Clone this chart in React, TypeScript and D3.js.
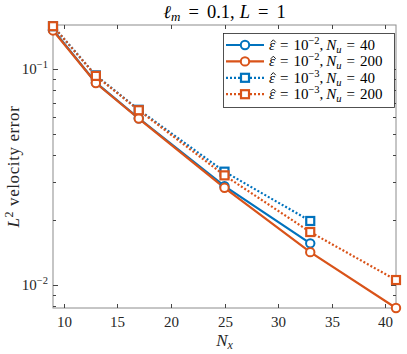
import React, { useEffect, useRef } from "react";
import * as d3 from "d3";

// grid sizes and errors
const nx = [9, 13, 17, 25, 33, 41];
const errEps2Nu40 = [0.152, 0.0865, 0.0592, 0.0287, 0.0156];
const errEps2Nu200 = [0.151, 0.0862, 0.0590, 0.0282, 0.0142, 0.00783];
const errEps3Nu40 = [0.158, 0.0935, 0.0648, 0.0335, 0.0198];
const errEps3Nu200 = [0.158, 0.0930, 0.0645, 0.0322, 0.0176, 0.01055];
const xTicks = [10, 15, 20, 25, 30, 35, 40];
const yTicks = [0.1, 0.01];

const BLUE = "#0072BD";
const ORANGE = "#D95319";
const FONT = "'Liberation Serif', 'Times New Roman', serif";

const series = [
  { values: errEps2Nu40, color: BLUE, dotted: false, marker: "circle", eps: "−2", nu: "40" },
  { values: errEps2Nu200, color: ORANGE, dotted: false, marker: "circle", eps: "−2", nu: "200" },
  { values: errEps3Nu40, color: BLUE, dotted: true, marker: "square", eps: "−3", nu: "40" },
  { values: errEps3Nu200, color: ORANGE, dotted: true, marker: "square", eps: "−3", nu: "200" },
];

export default function App() {
  const ref = useRef<SVGSVGElement>(null);

  useEffect(() => {
    const svg = d3.select(ref.current);
    svg.selectAll("*").remove();

    const left = 53, right = 396, top = 25, bottom = 308;
    const x = d3.scaleLinear().domain([9, 41]).range([left, right]);
    const y = d3.scaleLog().domain([0.00783, 0.16]).range([bottom, top]);

    const g = svg.append("g");

    // box
    g.append("rect")
      .attr("x", left).attr("y", top)
      .attr("width", right - left).attr("height", bottom - top)
      .attr("fill", "white").attr("stroke", "#8c8c8c").attr("stroke-width", 1);

    const tickLen = 4;
    const tickColor = "#444";
    xTicks.forEach(t => {
      const px = Math.round(x(t)) + 0.5;
      g.append("line").attr("x1", px).attr("x2", px).attr("y1", bottom).attr("y2", bottom - tickLen).attr("stroke", tickColor);
      g.append("line").attr("x1", px).attr("x2", px).attr("y1", top).attr("y2", top + tickLen).attr("stroke", tickColor);
      g.append("text").attr("x", px).attr("y", bottom + 19)
        .attr("text-anchor", "middle").attr("font-family", FONT).attr("font-size", 15).attr("fill", "#262626")
        .text(t);
    });

    const minor: number[] = [];
    [0.001, 0.01, 0.1].forEach(dec => {
      for (let k = 1; k < 10; k++) {
        const v = dec * k;
        if (v >= 0.00783 && v <= 0.16) minor.push(v);
      }
    });
    minor.forEach(v => {
      const py = Math.round(y(v)) + 0.5;
      const len = yTicks.includes(v) ? tickLen + 1 : tickLen - 1;
      g.append("line").attr("x1", left).attr("x2", left + len).attr("y1", py).attr("y2", py).attr("stroke", tickColor);
      g.append("line").attr("x1", right).attr("x2", right - len).attr("y1", py).attr("y2", py).attr("stroke", tickColor);
    });

    yTicks.forEach(v => {
      const t = g.append("text").attr("x", left - 5).attr("y", y(v) + 5)
        .attr("text-anchor", "end").attr("font-family", FONT).attr("font-size", 15).attr("fill", "#262626");
      t.append("tspan").text("10");
      t.append("tspan").attr("dy", -6).attr("font-size", 10.5).text("−" + Math.round(-Math.log10(v)));
    });

    const plot = g.append("g");
    const line = d3.line<number>().x((_, i) => x(nx[i])).y(d => y(d));

    series.forEach(s => {
      plot.append("path")
        .attr("d", line(s.values))
        .attr("fill", "none").attr("stroke", s.color).attr("stroke-width", 2.2)
        .attr("stroke-dasharray", s.dotted ? "2,2" : null);
    });
    const drawMarker = (sel: any, s: any, cx: number, cy: number) => {
      if (s.marker === "circle") {
        sel.append("circle").attr("cx", cx).attr("cy", cy).attr("r", 4.2)
          .attr("fill", "white").attr("stroke", s.color).attr("stroke-width", 2);
      } else {
        sel.append("rect").attr("x", cx - 4).attr("y", cy - 4).attr("width", 8).attr("height", 8)
          .attr("fill", "white").attr("stroke", s.color).attr("stroke-width", 2.2);
      }
    };
    series.forEach(s => {
      s.values.forEach((v, i) => drawMarker(plot, s, x(nx[i]), y(v)));
    });

    // legend
    const lg = g.append("g");
    const lx = 223, ly = 33, lw = 171, lh = 74;
    lg.append("rect").attr("x", lx + 0.5).attr("y", ly + 0.5).attr("width", lw).attr("height", lh)
      .attr("fill", "white").attr("stroke", "#262626").attr("stroke-width", 0.8);
    series.forEach((s, i) => {
      const cy = ly + 12 + i * 16.4;
      lg.append("line").attr("x1", lx + 3).attr("x2", lx + 41).attr("y1", cy).attr("y2", cy)
        .attr("stroke", s.color).attr("stroke-width", 2.2)
        .attr("stroke-dasharray", s.dotted ? "2,2" : null);
      drawMarker(lg, s, lx + 22, cy);
      const tx = lx + 46;
      const t = lg.append("text").attr("x", tx).attr("y", cy + 5)
        .attr("font-family", FONT).attr("font-size", 15).attr("fill", "#000");
      t.append("tspan").attr("font-style", "italic").text("ε");
      t.append("tspan").attr("dx", 5).text("=");
      t.append("tspan").attr("dx", 5).text("10");
      t.append("tspan").attr("dy", -6).attr("font-size", 10.5).text(s.eps);
      t.append("tspan").attr("dy", 6).text(",");
      t.append("tspan").attr("dx", 3).attr("font-style", "italic").text("N");
      t.append("tspan").attr("dy", 3).attr("font-size", 10.5).attr("font-style", "italic").text("u");
      t.append("tspan").attr("dx", 5).attr("dy", -3).text("=");
      t.append("tspan").attr("dx", 5).text(s.nu);
      // hat over epsilon
      lg.append("path")
        .attr("d", `M${tx + 1.8},${cy - 2.6} L${tx + 4.3},${cy - 5.2} L${tx + 6.8},${cy - 2.6}`)
        .attr("fill", "none").attr("stroke", "#000").attr("stroke-width", 0.9);
    });

    // title
    const title = g.append("text").attr("x", (left + right) / 2).attr("y", 18)
      .attr("text-anchor", "middle").attr("font-family", FONT).attr("font-size", 18.5).attr("fill", "#000");
    title.append("tspan").attr("font-style", "italic").text("ℓ");
    title.append("tspan").attr("dy", 3).attr("font-size", 13).attr("font-style", "italic").text("m");
    title.append("tspan").attr("dx", 8).attr("dy", -3).text("=");
    title.append("tspan").attr("dx", 8).text("0.1,");
    title.append("tspan").attr("dx", 5).attr("font-style", "italic").text("L");
    title.append("tspan").attr("dx", 8).text("=");
    title.append("tspan").attr("dx", 8).text("1");

    // x label
    const xl = g.append("text").attr("x", (left + right) / 2).attr("y", bottom + 38)
      .attr("text-anchor", "middle").attr("font-family", FONT).attr("font-size", 17).attr("fill", "#262626");
    xl.append("tspan").attr("font-style", "italic").text("N");
    xl.append("tspan").attr("dy", 3).attr("font-size", 12).attr("font-style", "italic").text("x");

    // y label
    const yl = g.append("text")
      .attr("transform", `translate(19,${(top + bottom) / 2}) rotate(-90)`)
      .attr("text-anchor", "middle").attr("font-family", FONT).attr("font-size", 17)
      .attr("letter-spacing", 0.6).attr("fill", "#262626");
    yl.append("tspan").attr("font-style", "italic").text("L");
    yl.append("tspan").attr("dy", -6).attr("font-size", 12).text("2");
    yl.append("tspan").attr("dy", 6).text(" velocity error");
  }, []);

  return <svg ref={ref} width={407} height={354} style={{ position: "absolute", left: 0, top: 0 }} />;
}
